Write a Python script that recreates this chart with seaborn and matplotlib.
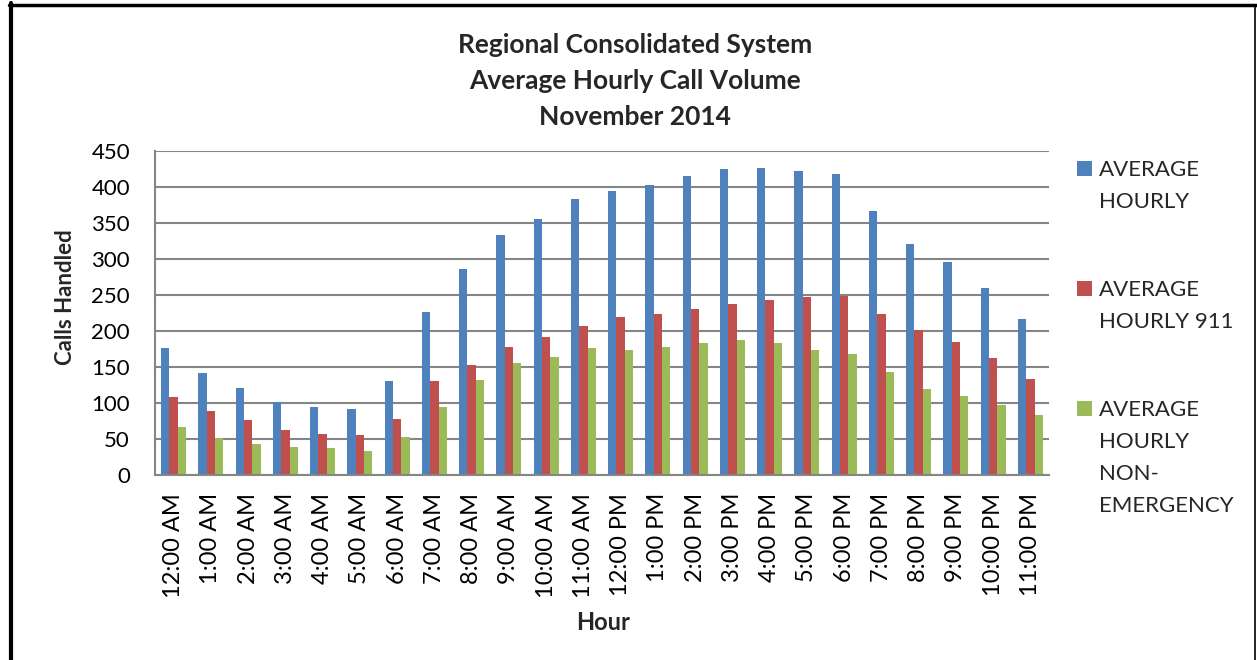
import numpy as np
import pandas as pd
import matplotlib
matplotlib.use("Agg")
import matplotlib.pyplot as plt
import seaborn as sns
from matplotlib.lines import Line2D
from matplotlib.patches import Rectangle

# ---- data -------------------------------------------------------------
hours = ["12:00 AM", "1:00 AM", "2:00 AM", "3:00 AM", "4:00 AM", "5:00 AM",
         "6:00 AM", "7:00 AM", "8:00 AM", "9:00 AM", "10:00 AM", "11:00 AM",
         "12:00 PM", "1:00 PM", "2:00 PM", "3:00 PM", "4:00 PM", "5:00 PM",
         "6:00 PM", "7:00 PM", "8:00 PM", "9:00 PM", "10:00 PM", "11:00 PM"]

avg_hourly = [176, 141, 121, 102, 95, 91, 131, 226, 286, 334, 356, 384,
              394, 403, 415, 425, 427, 422, 418, 367, 321, 296, 260, 217]
avg_911 = [108, 89, 77, 62, 57, 56, 78, 131, 153, 178, 191, 207,
           219, 224, 231, 238, 243, 247, 249, 223, 202, 185, 162, 134]
avg_non_emergency = [67, 52, 43, 39, 37, 34, 53, 95, 132, 155, 164, 176,
                     174, 178, 183, 187, 184, 174, 168, 143, 119, 110, 97, 83]

series_names = ["AVERAGE HOURLY", "AVERAGE HOURLY 911",
                "AVERAGE HOURLY NON-EMERGENCY"]
legend_lines = [["AVERAGE", "HOURLY"],
                ["AVERAGE", "HOURLY 911"],
                ["AVERAGE", "HOURLY", "NON-", "EMERGENCY"]]
title_lines = ["Regional Consolidated System",
               "Average Hourly Call Volume",
               "November 2014"]
y_ticks = list(range(0, 451, 50))

colors = ["#4F81BD", "#C0504D", "#9BBB59"]
grid_color = "#868686"

df = pd.DataFrame({
    "Hour": hours * 3,
    "Calls": avg_hourly + avg_911 + avg_non_emergency,
    "Series": [s for s in series_names for _ in hours],
})

# ---- figure -----------------------------------------------------------
W, H = 1257, 660
sns.set_style("white")
plt.rcParams["font.family"] = ["Lato", "DejaVu Sans"]

fig = plt.figure(figsize=(W / 100, H / 100), dpi=100)
fig.patch.set_facecolor("white")


def px(x, y):
    return x / W, 1 - y / H


ax_left, ax_right, ax_top, ax_bottom = 155, 1049, 151, 475
ax = fig.add_axes([ax_left / W, 1 - ax_bottom / H,
                   (ax_right - ax_left) / W, (ax_bottom - ax_top) / H])

sns.barplot(data=df, x="Hour", y="Calls", hue="Series", order=hours,
            hue_order=series_names, palette=colors, saturation=1,
            width=0.67, errorbar=None, legend=False, ax=ax,
            edgecolor="none", linewidth=0)

ax.set_xlim(-0.5, len(hours) - 0.5)
ax.set_ylim(0, 450)
ax.set_yticks(y_ticks)
ax.set_xticks(range(len(hours)))
ax.set_xticklabels(hours, rotation=90, ha="center", va="top")
ax.set_xticks(np.arange(-0.5, len(hours), 1.0), minor=True)

ax.yaxis.grid(True, color=grid_color, linewidth=1.5)
ax.xaxis.grid(False)
ax.set_axisbelow(True)

for side in ("top", "right"):
    ax.spines[side].set_visible(False)
for side in ("left", "bottom"):
    ax.spines[side].set_color(grid_color)
    ax.spines[side].set_linewidth(1.5)

ax.tick_params(axis="y", which="major", length=6, width=1.5,
               color=grid_color, pad=12, labelsize=16, labelcolor="black")
ax.tick_params(axis="x", which="major", length=0, pad=13, labelsize=17,
               labelcolor="black")
ax.tick_params(axis="x", which="minor", length=6, width=1.5,
               color=grid_color)
ax.set_xlabel("")
ax.set_ylabel("")

# ---- titles & axis labels --------------------------------------------
for i, line in enumerate(title_lines):
    fig.text(*px(635, 45 + 36 * i), line, ha="center", va="center",
             fontsize=19, fontweight="bold")

fig.text(*px(603, 622), "Hour", ha="center", va="center",
         fontsize=17, fontweight="bold")
fig.text(*px(65, 297), "Calls Handled", ha="center", va="center",
         rotation=90, fontsize=16, fontweight="bold")

# ---- legend -----------------------------------------------------------
first_baselines = [176, 296, 416]
for color, lines, base in zip(colors, legend_lines, first_baselines):
    fig.patches.append(Rectangle(px(1077, base), 15 / W, 15 / H,
                                 transform=fig.transFigure,
                                 facecolor=color, edgecolor="none"))
    for j, line in enumerate(lines):
        fig.text(*px(1099, base + 32 * j), line, ha="left",
                 va="baseline", fontsize=16)

# ---- frame ------------------------------------------------------------
fig.add_artist(Line2D([11 / W, 11 / W], [1 - 660 / H, 1 - 3 / H],
                      transform=fig.transFigure, color="black", linewidth=3))
fig.add_artist(Line2D([9 / W, 1257 / W], [1 - 5 / H, 1 - 5 / H],
                      transform=fig.transFigure, color="black", linewidth=2.5))
fig.add_artist(Line2D([1255 / W, 1255 / W], [1 - 660 / H, 1 - 5 / H],
                      transform=fig.transFigure, color="black", linewidth=1.2))

fig.savefig("out.png", dpi=100, facecolor="white")
